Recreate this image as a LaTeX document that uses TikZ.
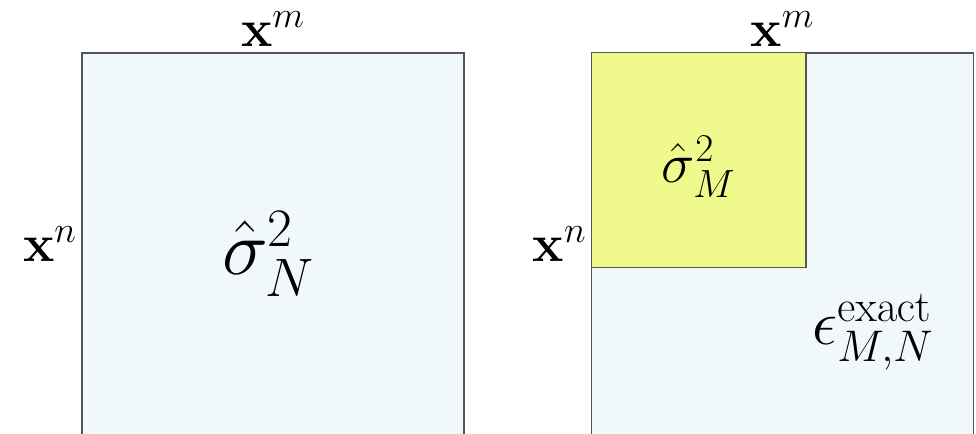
\RequirePackage{fix-cm}
\documentclass[tikz,border=0pt]{standalone}
\usepackage{amsmath, amssymb}
\usepackage{bm}
\usepackage{tikz}
\usetikzlibrary{positioning}
\usepackage{xcolor}

\definecolor{covblue}{RGB}{241,248,252}
\definecolor{covyellow}{RGB}{240,250,140}
\definecolor{edgegray}{RGB}{85,85,85}

\begin{document}
\begin{tikzpicture}[
    blk/.style={draw=edgegray, line width=0.8pt, fill=covblue, inner sep=0pt, minimum size=7.64cm},
    sub/.style={draw=edgegray, line width=0.8pt, fill=covyellow, inner sep=0pt, minimum size=4.29cm},
    lbl/.style={inner sep=0pt, font=\fontsize{30}{36}\selectfont}
]
    \useasboundingbox (0,0) rectangle (19.52,8.66);

    % full kernel matrix
    \node[blk] (fullK) at (5.46,3.78) {};
    \node[lbl, font=\fontsize{44}{50}\selectfont] (sigN) at (5.36,3.58) {$\hat{\sigma}_N^2$};
    \node[lbl, above=0.1cm of fullK.north] (xmL) {$\mathbf{x}^m$};
    \node[lbl, left=0.08cm of fullK.west] (xnL) {$\mathbf{x}^n$};

    % truncated kernel matrix with sub-block
    \node[blk] (truncK) at (15.65,3.78) {};
    \node[sub] (subK) at (13.975,5.46) {};
    \node[lbl, font=\fontsize{32}{38}\selectfont] (sigM) at ([yshift=-0.14cm]subK.center) {$\hat{\sigma}_M^2$};
    \node[lbl, font=\fontsize{36}{42}\selectfont] (eps) at (17.46,2.02) {$\epsilon_{M,N}^{\mathrm{exact}}$};
    \node[lbl, above=0.1cm of truncK.north] (xmR) {$\mathbf{x}^m$};
    \node[lbl, left=0.08cm of truncK.west] (xnR) {$\mathbf{x}^n$};
\end{tikzpicture}
\end{document}
